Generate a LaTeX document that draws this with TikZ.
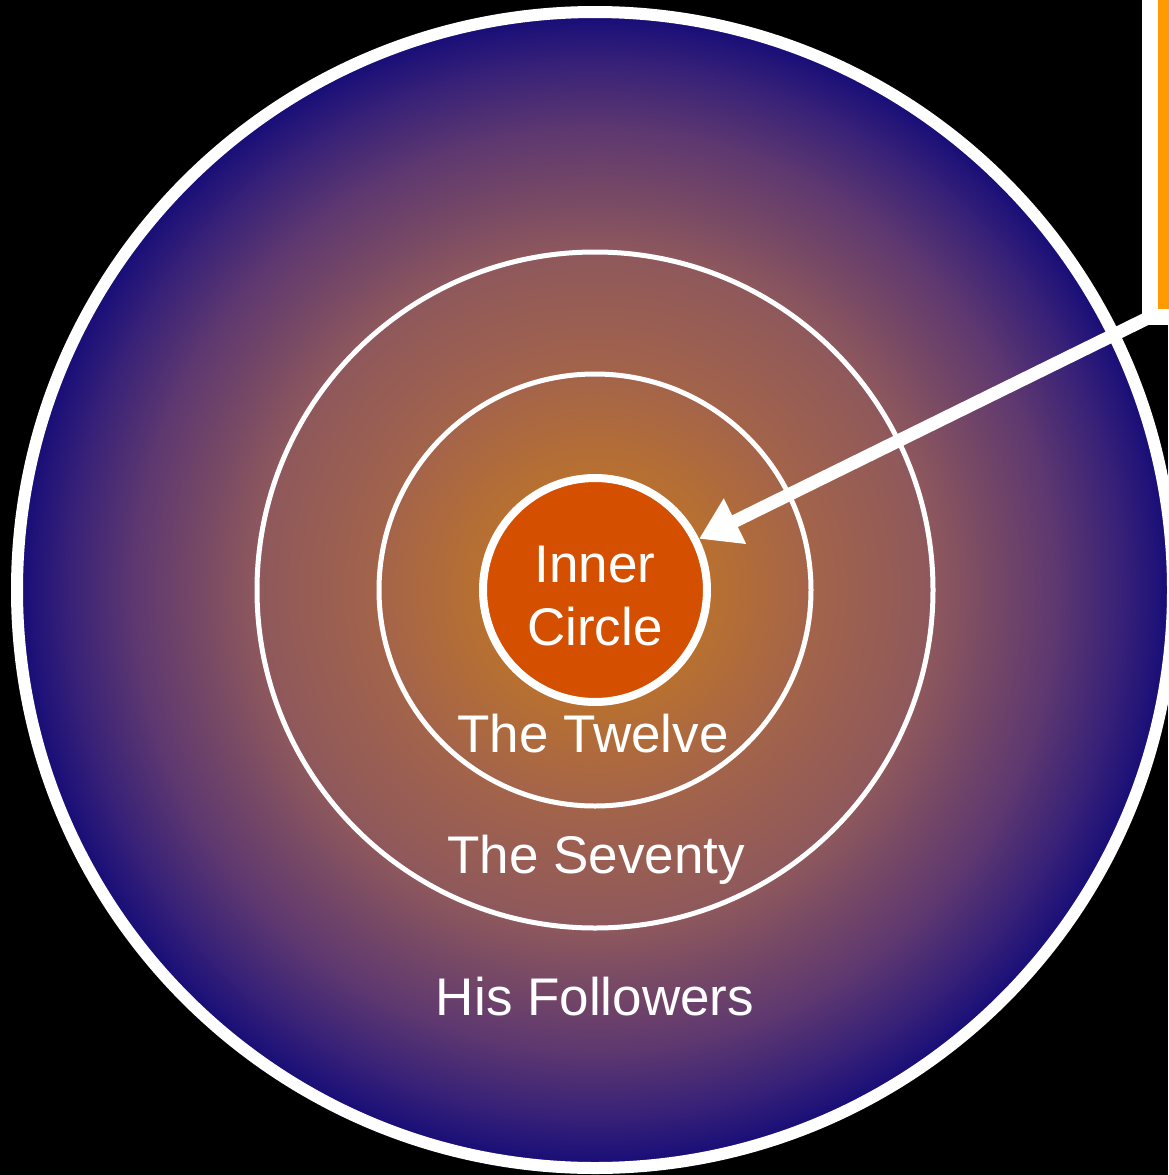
\documentclass[tikz,border=0pt]{standalone}
\usepackage{fontspec}
\setmainfont{Liberation Sans}
\usetikzlibrary{arrows.meta}
\definecolor{cA}{HTML}{C47A22}
\definecolor{cB}{HTML}{B87030}
\definecolor{cC}{HTML}{A4644A}
\definecolor{cD}{HTML}{8E585C}
\definecolor{cE}{HTML}{5E3870}
\definecolor{cF}{HTML}{362078}
\definecolor{cG}{HTML}{150C78}
\definecolor{innerfill}{HTML}{D45000}
\definecolor{boxorange}{HTML}{FF9A00}
\pgfdeclareradialshading{followers}{\pgfpoint{0bp}{0bp}}{%
  color(0bp)=(cA); color(5bp)=(cB); color(9.3bp)=(cC); color(14.6bp)=(cD);
  color(19.9bp)=(cE); color(22.9bp)=(cF); color(25bp)=(cG); color(50bp)=(cG)}
\tikzset{
  ring/.style={circle, draw=white, inner sep=0pt, outer sep=0pt},
  lbl/.style={text=white, anchor=base, inner sep=0pt, font=\fontsize{53pt}{63pt}\selectfont},
}
\begin{document}
\begin{tikzpicture}[x=1pt,y=-1pt]
\useasboundingbox (0,0) rectangle (1168,1175);
\fill[black] (0,0) rectangle (1168,1175);
\node[ring, line width=12pt, minimum size=1156pt, shading=followers] (followers) at (595,590) {};
\node[ring, line width=5pt, minimum size=676pt] (seventy) at (595,590) {};
\node[ring, line width=5pt, minimum size=432pt] (twelve) at (595,590) {};
\node[ring, line width=8pt, minimum size=224pt, fill=innerfill, outer sep=4pt] (inner) at (595,590) {};
\node[lbl] (linner1) at (595,582) {Inner};
\node[lbl] (linner2) at (595,645) {Circle};
\node[lbl] (ltwelve) at (593,752) {The Twelve};
\node[lbl] (lseventy) at (596,873) {The Seventy};
\node[lbl] (lfollowers) at (595,1015) {His Followers};
\node[draw=white, line width=16pt, fill=boxorange, minimum width=120pt, minimum height=400pt,
      inner sep=0pt, outer sep=0pt, anchor=south west] (callout) at (1150,317) {};
\draw[white, line width=13pt, -{Triangle[length=40pt,width=48pt]}] (callout.south west) -- (inner);
\end{tikzpicture}
\end{document}
